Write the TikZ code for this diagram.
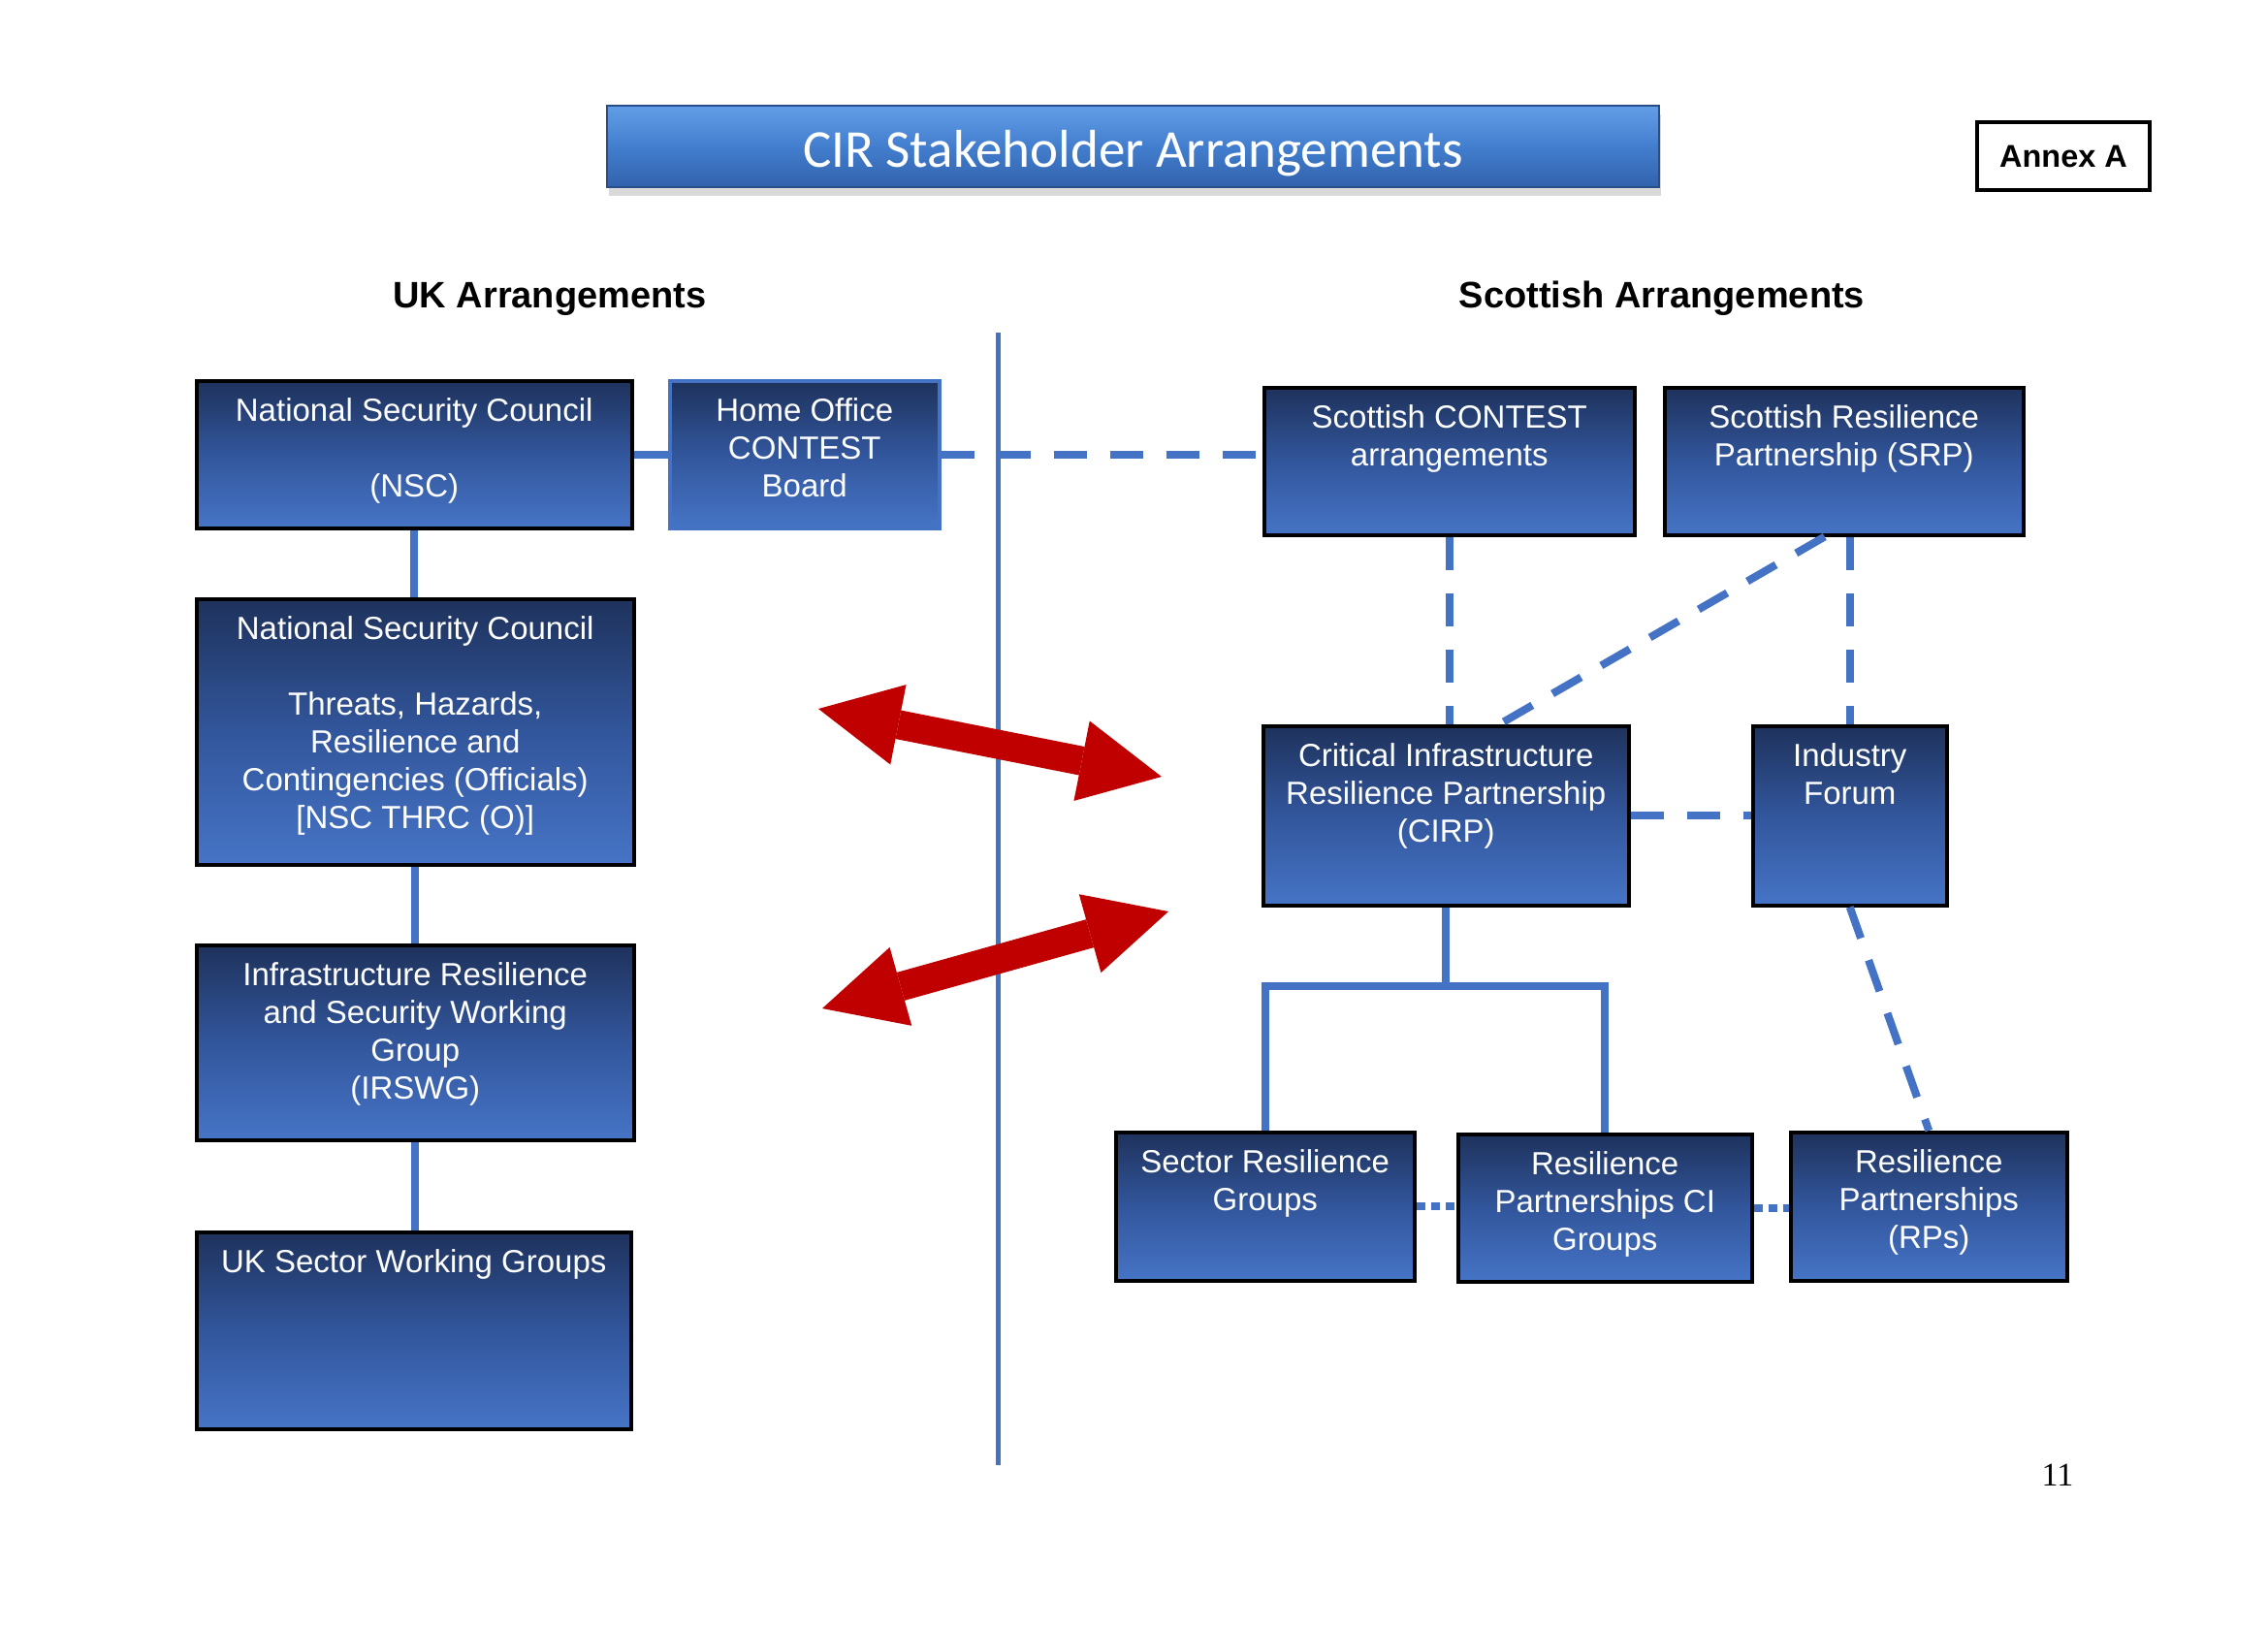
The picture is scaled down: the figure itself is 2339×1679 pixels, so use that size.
\documentclass[tikz,border=0pt]{standalone}
\usepackage{fontspec}
\setmainfont{Liberation Sans}
\newfontfamily\titlefont{Carlito}
\newfontfamily\pagefont{Liberation Serif}
\usetikzlibrary{arrows.meta, shadows, calc}

\definecolor{boxtop}{RGB}{30,50,92}
\definecolor{boxmid}{RGB}{50,86,156}
\definecolor{boxbot}{RGB}{70,116,198}
\definecolor{linkblue}{RGB}{68,114,196}
\definecolor{titletop}{RGB}{98,158,230}
\definecolor{titlemid}{RGB}{66,126,206}
\definecolor{titlebot}{RGB}{50,98,172}
\definecolor{cirred}{RGB}{192,0,0}

\tikzset{
  cirbox/.style={draw=black, line width=3.5pt, top color=boxtop, bottom color=boxbot, middle color=boxmid, anchor=north west, inner sep=0pt},
  boxtext/.style={anchor=north, yshift=-19pt, inner sep=0pt, align=center, text=white, font=\fontsize{33}{39}\selectfont},
  solidlink/.style={draw=linkblue, line width=8pt},
  dashlink/.style={draw=linkblue, line width=8pt, dash pattern=on 34pt off 24pt},
  dotlink/.style={draw=linkblue, line width=8pt, dash pattern=on 9pt off 6pt},
  redarrow/.style={draw=cirred, line width=30pt, arrows={Triangle[length=84pt, width=84pt, line width=0pt]-Triangle[length=84pt, width=84pt, line width=0pt]}},
  heading/.style={font=\fontsize{38}{46}\selectfont\bfseries, anchor=base}
}

\begin{document}
\begin{tikzpicture}[x=1pt, y=-1pt]
    \useasboundingbox (0,0) rectangle (2339,1679);

    \node[draw=titlebot!80!black, line width=1.5pt, top color=titletop, bottom color=titlebot, middle color=titlemid, minimum width=1085pt, minimum height=84pt, text=white, font=\titlefont\fontsize{55}{66}\selectfont, text depth=0pt, drop shadow={shadow xshift=2pt, shadow yshift=-9pt, opacity=0.3}] (title) at (1168.5,151) {\raisebox{-4pt}{CIR Stakeholder Arrangements}};
    \node[draw, line width=4pt, minimum width=178pt, minimum height=70pt, font=\fontsize{32.5}{39}\selectfont\bfseries] (annex) at (2128,161) {Annex A};

    \node[heading] (ukhead) at (567,317) {UK Arrangements};
    \node[heading] (schead) at (1714,317) {Scottish Arrangements};

    % UK side
    \node[cirbox, minimum width=449pt, minimum height=152pt, label={[boxtext]north:{National Security Council\\[39pt](NSC)}}] (nsc) at (201,391) {};
    \node[cirbox, draw=linkblue, minimum width=278pt, minimum height=152pt, label={[boxtext]north:{Home Office\\CONTEST\\Board}}] (home) at (689,391) {};
    \node[cirbox, minimum width=451pt, minimum height=274pt, label={[boxtext]north:{National Security Council\\[39pt]Threats, Hazards,\\Resilience and\\Contingencies (Officials)\\{[NSC THRC (O)]}}}] (thrc) at (201,616) {};
    \node[cirbox, minimum width=451pt, minimum height=201pt, label={[boxtext]north:{Infrastructure Resilience\\and Security Working\\Group\\(IRSWG)}}] (irswg) at (201,973) {};
    \node[cirbox, minimum width=448pt, minimum height=203pt, label={[boxtext]north:{UK Sector Working Groups}}] (ukswg) at (201,1269) {};

    % Scottish side
    \node[cirbox, minimum width=382pt, minimum height=152pt, label={[boxtext]north:{Scottish CONTEST\\arrangements}}] (scontest) at (1302,398) {};
    \node[cirbox, minimum width=370pt, minimum height=152pt, label={[boxtext]north:{Scottish Resilience\\Partnership (SRP)}}] (srp) at (1715,398) {};
    \node[cirbox, minimum width=377pt, minimum height=185pt, label={[boxtext]north:{Critical Infrastructure\\Resilience Partnership\\(CIRP)}}] (cirp) at (1301,747) {};
    \node[cirbox, minimum width=200pt, minimum height=185pt, label={[boxtext]north:{Industry\\Forum}}] (indf) at (1806,747) {};
    \node[cirbox, minimum width=308pt, minimum height=153pt, label={[boxtext]north:{Sector Resilience\\Groups}}] (srg) at (1149,1166) {};
    \node[cirbox, minimum width=303pt, minimum height=152pt, label={[boxtext]north:{Resilience\\Partnerships CI\\Groups}}] (rpci) at (1502,1168) {};
    \node[cirbox, minimum width=285pt, minimum height=153pt, label={[boxtext]north:{Resilience\\Partnerships\\(RPs)}}] (rps) at (1845,1166) {};

    % divider
    \coordinate (divtop) at (1029,343);
    \coordinate (divbot) at (1029,1511);
    \draw[draw=linkblue, line width=5pt] (divtop) -- (divbot);

    % links
    \draw[solidlink] (nsc.east) -- (home.west);
    \draw[dashlink] (home.east) -- (home.east -| scontest.west);
    \draw[solidlink] (nsc.south) -- (nsc.south |- thrc.north);
    \draw[solidlink] (thrc.south) -- (thrc.south |- irswg.north);
    \draw[solidlink] (irswg.south) -- (irswg.south |- ukswg.north);

    \draw[dashlink] (scontest.south) -- (scontest.south |- cirp.north);
    \draw[dashlink] ([xshift=-20pt]srp.south) -- ([xshift=55pt]cirp.north);
    \draw[dashlink] (indf.north |- srp.south) -- (indf.north);
    \draw[dashlink] (cirp.east) -- (indf.west);
    \draw[dashlink] (indf.south) -- (rps.north);
    \draw[solidlink] (cirp.south) -- ++(0,81) coordinate (cirpbus);
    \draw[solidlink] (srg.north) |- (cirpbus) -| (rpci.north);
    \draw[dotlink] (srg.east) -- (srg.east -| rpci.west);
    \draw[dotlink] (rpci.east) -- (rpci.east -| rps.west);

    % exchange arrows
    \coordinate (arrAw) at (844,731);
    \coordinate (arrAe) at (1198,801);
    \coordinate (arrBw) at (848,1040);
    \coordinate (arrBe) at (1205,940);
    \draw[redarrow] (arrAw) -- (arrAe);
    \draw[redarrow] (arrBw) -- (arrBe);

    \node[font=\pagefont\fontsize{34}{40}\selectfont, anchor=base] (pagenum) at (2122,1532) {11};
\end{tikzpicture}
\end{document}
